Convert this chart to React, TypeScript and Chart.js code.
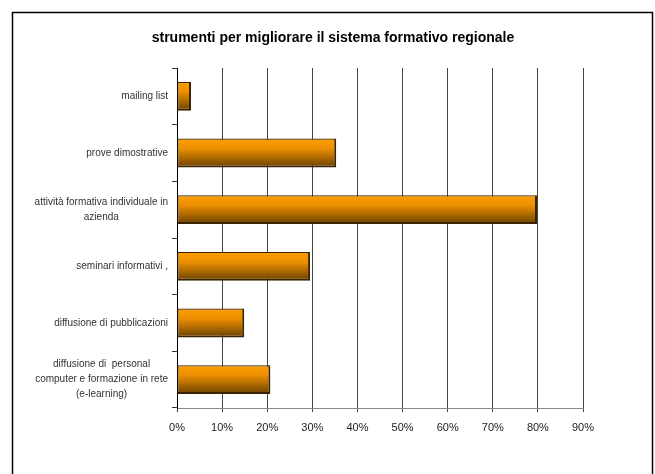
import React, { useEffect, useRef } from "react";
import { Chart, registerables } from "chart.js";

Chart.register(...registerables);

const categories: string[][] = [
  ["mailing list"],
  ["prove dimostrative"],
  ["attività formativa individuale in", "azienda"],
  ["seminari informativi ,"],
  ["diffusione di pubblicazioni"],
  ["diffusione di  personal", "computer e formazione in rete", "(e-learning)"],
];
const values: number[] = [3.1, 35.3, 79.8, 29.5, 14.9, 20.7];
const xTicksMax = 90;
const xTickStep = 10;
const title = "strumenti per migliorare il sistema formativo regionale";

const FONT = "'Liberation Sans', Arial, sans-serif";

const framePlugin = {
  id: "frame",
  beforeDraw(chart: any) {
    const ctx = chart.ctx;
    ctx.save();
    ctx.fillStyle = "#ffffff";
    ctx.fillRect(0, 0, chart.width, chart.height);
    ctx.strokeStyle = "#000000";
    ctx.lineWidth = 1.5;
    ctx.strokeRect(12.5, 12.5, 640, 600);
    ctx.font = `bold 14px ${FONT}`;
    ctx.fillStyle = "#000000";
    ctx.textAlign = "center";
    ctx.textBaseline = "middle";
    ctx.fillText(title, 333, 38);
    ctx.restore();
  },
  afterDraw(chart: any) {
    const ctx = chart.ctx;
    const yScale = chart.scales.y;
    const labels = chart.data.labels as string[][];
    const lineH = 15;
    const right = chart.chartArea.left - 9;
    ctx.save();
    ctx.font = `10px ${FONT}`;
    ctx.fillStyle = "#333333";
    ctx.textAlign = "center";
    ctx.textBaseline = "middle";
    labels.forEach((lines, i) => {
      const cy = yScale.getPixelForValue(i);
      const w = Math.max(...lines.map((l) => ctx.measureText(l).width));
      const cx = right - w / 2;
      const y0 = cy - ((lines.length - 1) * lineH) / 2;
      lines.forEach((l, j) => ctx.fillText(l, cx, y0 + j * lineH));
    });
    ctx.restore();
  },
};

export default function App() {
  const ref = useRef<HTMLCanvasElement>(null);
  useEffect(() => {
    if (!ref.current) return;
    const barFrac = 0.51;
    const chart = new Chart(ref.current, {
      type: "bar",
      data: {
        labels: categories as any,
        datasets: [
          {
            data: values,
            backgroundColor: (c: any) => {
              const ch = c.chart;
              const area = ch.chartArea;
              const ys = ch.scales.y;
              if (!area || !ys || c.dataIndex === undefined) return "#e08a00";
              const band = area.height / categories.length;
              const cy = ys.getPixelForValue(c.dataIndex);
              const h = band * barFrac;
              const g = ch.ctx.createLinearGradient(0, cy - h / 2, 0, cy + h / 2);
              g.addColorStop(0, "#FF9E00");
              g.addColorStop(0.35, "#EB8F00");
              g.addColorStop(1, "#6A4000");
              return g;
            },
            borderColor: "#3A2300",
            borderWidth: { top: 1.2, left: 1, right: 2, bottom: 2 } as any,
            borderSkipped: false,
            categoryPercentage: 1,
            barPercentage: barFrac,
          },
        ],
      },
      options: {
        indexAxis: "y",
        animation: false,
        responsive: false,
        maintainAspectRatio: false,
        layout: { padding: { left: 0, right: 72, top: 68, bottom: 0 } },
        plugins: {
          legend: { display: false },
          tooltip: { enabled: false },
          title: { display: false },
        },
        scales: {
          x: {
            min: 0,
            max: xTicksMax,
            afterFit: (s: any) => {
              s.height = 66;
            },
            ticks: {
              stepSize: xTickStep,
              callback: (v: any) => `${v}%`,
              color: "#222222",
              font: { family: FONT, size: 11 },
              padding: 9,
            },
            grid: {
              color: "#444444",
              lineWidth: 1,
              drawTicks: true,
              tickLength: 4,
            },
            border: { color: "#8a8a8a", width: 1 },
          },
          y: {
            afterFit: (s: any) => {
              s.width = 177;
            },
            ticks: { display: false },
            grid: {
              drawOnChartArea: false,
              drawTicks: true,
              tickLength: 5,
              offset: true,
              color: "#333333",
            },
            border: { color: "#000000", width: 1 },
          },
        },
      },
      plugins: [framePlugin],
    });
    return () => chart.destroy();
  }, []);
  return (
    <div style={{ position: "fixed", left: 0, top: 0, width: 655, height: 474, overflow: "hidden" }}>
      <canvas ref={ref} width={655} height={474} style={{ display: "block" }} />
    </div>
  );
}
